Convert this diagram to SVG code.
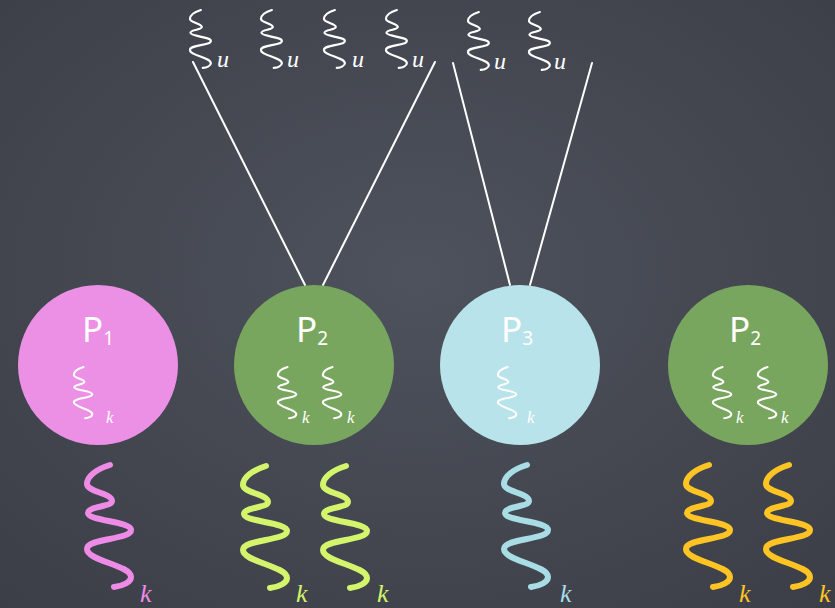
<svg xmlns="http://www.w3.org/2000/svg" xmlns:xlink="http://www.w3.org/1999/xlink" width="835" height="608" viewBox="0 0 835 608">
<defs>
<radialGradient id="bg" cx="50%" cy="45%" r="75%">
<stop offset="0" stop-color="#4e525c"/>
<stop offset="1" stop-color="#3b3e47"/>
</radialGradient>
<path id="sq" d="M25,0 C12,4 2,11 2,19 C2,27 27,28 27,36 C27,42 3,41 3,48 C3,56 46,56 46,65 C46,75 2,73 2,84 C2,96 46,100 46,112 C46,117 38,121 29,122" fill="none" stroke-linecap="round" stroke-linejoin="round"/>
<style>
.top{stroke:#ffffff;stroke-width:4.6}
.in{stroke:#ffffff;stroke-width:5}
.big{stroke-width:6}
.lbl{font-family:"Liberation Serif",serif;font-style:italic}
.u{font-size:24px;fill:#ffffff}
.ks{font-size:17px;fill:#ffffff}
.kb{font-size:26px}
.pn{font-family:"Noto Sans","DejaVu Sans",sans-serif;fill:#ffffff;font-size:35px}
.sub{font-size:19px}
.conn line{stroke:#ffffff;stroke-width:2;stroke-linecap:round}
</style>
</defs>
<rect width="835" height="608" fill="url(#bg)"/>

<g id="connectors" class="conn">
<line x1="193" y1="62" x2="305" y2="285"/>
<line x1="435" y1="62" x2="323" y2="285"/>
<line x1="453" y1="63" x2="510" y2="285"/>
<line x1="592" y1="63" x2="530" y2="285"/>
</g>

<g id="u1"><use xlink:href="#sq" class="top" transform="translate(189,10) scale(0.475)"/><text class="lbl u" x="217" y="67">u</text></g>
<g id="u2"><use xlink:href="#sq" class="top" transform="translate(260,10) scale(0.475)"/><text class="lbl u" x="287" y="67">u</text></g>
<g id="u3"><use xlink:href="#sq" class="top" transform="translate(323,10) scale(0.475)"/><text class="lbl u" x="352" y="67">u</text></g>
<g id="u4"><use xlink:href="#sq" class="top" transform="translate(385,10) scale(0.475)"/><text class="lbl u" x="412" y="67">u</text></g>
<g id="u5"><use xlink:href="#sq" class="top" transform="translate(467,12) scale(0.475)"/><text class="lbl u" x="494" y="69">u</text></g>
<g id="u6"><use xlink:href="#sq" class="top" transform="translate(528,12) scale(0.475)"/><text class="lbl u" x="554" y="69">u</text></g>

<g id="p1">
<circle cx="98" cy="365" r="80" fill="#eb90e5"/>
<text class="pn" x="82" y="342">P<tspan class="sub" dy="3">1</tspan></text>
<use xlink:href="#sq" class="in" transform="translate(73,367) scale(0.42)"/>
<text class="lbl ks" x="106" y="423">k</text>
</g>
<g id="p2a">
<circle cx="314" cy="365" r="80" fill="#79a65e"/>
<text class="pn" x="296" y="342">P<tspan class="sub" dy="3">2</tspan></text>
<use xlink:href="#sq" class="in" transform="translate(277,367) scale(0.42)"/>
<text class="lbl ks" x="302" y="423">k</text>
<use xlink:href="#sq" class="in" transform="translate(322,367) scale(0.42)"/>
<text class="lbl ks" x="347" y="423">k</text>
</g>
<g id="p3">
<circle cx="520" cy="365" r="80" fill="#b8e3ea"/>
<text class="pn" x="501" y="342">P<tspan class="sub" dy="3">3</tspan></text>
<use xlink:href="#sq" class="in" transform="translate(497,367) scale(0.42)"/>
<text class="lbl ks" x="527" y="423">k</text>
</g>
<g id="p2b">
<circle cx="748" cy="365" r="80" fill="#79a65e"/>
<text class="pn" x="729" y="342">P<tspan class="sub" dy="3">2</tspan></text>
<use xlink:href="#sq" class="in" transform="translate(712,367) scale(0.42)"/>
<text class="lbl ks" x="736" y="423">k</text>
<use xlink:href="#sq" class="in" transform="translate(757,367) scale(0.42)"/>
<text class="lbl ks" x="781" y="423">k</text>
</g>

<g id="k-pink">
<use xlink:href="#sq" class="big" stroke="#ee8be6" transform="translate(85,465)"/>
<text class="lbl kb" fill="#ee8be6" x="140" y="602">k</text>
</g>
<g id="k-lime1">
<use xlink:href="#sq" class="big" stroke="#d3f46b" transform="translate(241,466)"/>
<text class="lbl kb" fill="#d3f46b" x="296" y="602">k</text>
</g>
<g id="k-lime2">
<use xlink:href="#sq" class="big" stroke="#d3f46b" transform="translate(321,466)"/>
<text class="lbl kb" fill="#d3f46b" x="377" y="602">k</text>
</g>
<g id="k-blue">
<use xlink:href="#sq" class="big" stroke="#a8dde5" transform="translate(502,465)"/>
<text class="lbl kb" fill="#a8dde5" x="560" y="602">k</text>
</g>
<g id="k-yellow1">
<use xlink:href="#sq" class="big" stroke="#fdc424" transform="translate(684,465)"/>
<text class="lbl kb" fill="#fdc424" x="739" y="602">k</text>
</g>
<g id="k-yellow2">
<use xlink:href="#sq" class="big" stroke="#fdc424" transform="translate(764,465)"/>
<text class="lbl kb" fill="#fdc424" x="819" y="602">k</text>
</g>
</svg>
